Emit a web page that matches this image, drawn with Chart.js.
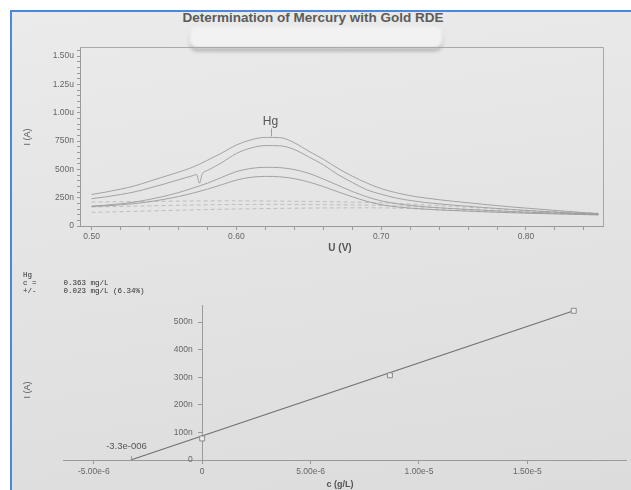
<!DOCTYPE html>
<html>
<head>
<meta charset="utf-8">
<script src="https://cdn.jsdelivr.net/npm/chart.js@4.4.1/dist/chart.umd.min.js"></script>
<style>
  html, body { margin: 0; padding: 0; background: #fff; }
  #page { position: relative; width: 631px; height: 490px; overflow: hidden; background: #fff;
          font-family: "Liberation Sans", Arial, sans-serif; color: #555; }
  #paper { position: absolute; left: 10px; top: 10px; width: 621px; height: 480px;
           border-left: 2px solid #4f86d6; border-top: 2px solid #4f86d6;
           background: linear-gradient(172deg, #ebebeb 0%, #e4e4e4 45%, #dcdcdc 100%); }
  #tape { position: absolute; left: 190px; top: 27px; width: 252px; height: 21px; border-radius: 7px;
          background: #f2f2f2; filter: blur(1.8px); box-shadow: 0 3px 3px rgba(0,0,0,0.28); }
  canvas { position: absolute; left: 0; }
  #top { top: 0; }
  #bottom { top: 290px; }
  .txt { position: absolute; white-space: nowrap; transform: translate(-50%, -50%); }
  .rot { transform: translate(-50%, -50%) rotate(-90deg); }
  #title { left: 313px; top: 17px; font-size: 13.5px; font-weight: bold; color: #5c5c5c; }
  #info { position: absolute; left: 23px; top: 271px; margin: 0; font-family: "Liberation Mono", monospace;
          font-size: 7.5px; line-height: 8px; color: #2e2e2e; }
</style>
</head>
<body>
<div id="page">
  <div id="paper"></div>
  <div class="txt" id="title">Determination of Mercury with Gold RDE</div>
  <div id="tape"></div>
  <canvas id="top" width="631" height="250"></canvas>
  <canvas id="bottom" width="631" height="200"></canvas>
  <div class="txt rot" style="left:27px;top:137px;font-size:9px;">I (A)</div>
  <div class="txt" style="left:340px;top:247px;font-size:10px;font-weight:bold;">U (V)</div>
  <pre id="info">Hg
c =      0.363 mg/L
+/-      0.023 mg/L (6.34%)</pre>
  <div class="txt rot" style="left:27px;top:390px;font-size:9px;">I (A)</div>
  <div class="txt" style="left:340px;top:484px;font-size:9px;font-weight:bold;">c (g/L)</div>
</div>
<script>
// voltammogram (U in V, I in nA)
const voltage = [0.50, 0.51, 0.52, 0.53, 0.54, 0.55, 0.56, 0.57, 0.58, 0.59, 0.60, 0.61,
                 0.62, 0.63, 0.64, 0.65, 0.66, 0.67, 0.68, 0.69, 0.70, 0.71, 0.72, 0.73,
                 0.74, 0.75, 0.76, 0.77, 0.78, 0.79, 0.80, 0.81, 0.82, 0.83, 0.84, 0.85];
const hg1 = [278, 300, 325, 355, 395, 435, 475, 520, 580, 645, 715, 760, 782, 780, 735, 660, 590, 510,
             440, 380, 330, 295, 268, 248, 232, 218, 205, 192, 180, 168, 158, 148, 138, 128, 118, 110];
const hg2 = [241, 258, 278, 302, 335, 370, 408, 445, 490, 560, 640, 688, 710, 708, 675, 610, 540, 455,
             385, 320, 280, 248, 225, 208, 195, 184, 174, 164, 155, 146, 138, 130, 123, 116, 110, 105];
const hg3 = [175, 184, 196, 212, 235, 262, 295, 335, 378, 430, 480, 508, 518, 515, 498, 465, 415, 360,
             305, 258, 222, 198, 182, 170, 161, 153, 146, 140, 134, 128, 123, 118, 114, 110, 106, 102];
const hg4 = [172, 178, 187, 198, 214, 235, 260, 290, 325, 365, 405, 430, 438, 434, 418, 388, 348, 302,
             258, 218, 188, 170, 158, 149, 142, 136, 131, 126, 121, 117, 113, 110, 107, 104, 101, 98];
// spike on the second scan
const spikeU = [0.5725, 0.5745, 0.5765];
const spikeI = [455, 378, 462];
// dashed baselines
const baseU = [0.50, 0.60, 0.70, 0.75, 0.80, 0.85];
const base1 = [212, 222, 205, 172, 138, 112];
const base2 = [168, 190, 182, 152, 124, 104];
const base3 = [120, 150, 160, 138, 116, 98];

const peakU = 0.624;
const peakI = 782;
const peakLabel = 'Hg';

const topXTicks = [0.50, 0.60, 0.70, 0.80];
const topXLabels = ['0.50', '0.60', '0.70', '0.80'];
const topYTicks = [0, 250, 500, 750, 1000, 1250, 1500];
const topYLabels = ['0', '250n', '500n', '750n', '1.00u', '1.25u', '1.50u'];

// standard addition plot (c in g/L, I in nA)
const concX = [0, 8.66e-6, 17.14e-6];
const currentI = [78, 307, 541];
const fitX = [-3.3e-6, 17.14e-6];
const fitI = [0, 541];
const interceptLabel = '-3.3e-006';

const botXTicks = [-5e-6, 0, 5e-6, 1e-5, 1.5e-5];
const botXLabels = ['-5.00e-6', '0', '5.00e-6', '1.00e-5', '1.50e-5'];
const botYTicks = [0, 100, 200, 300, 400, 500];
const botYLabels = ['0', '100n', '200n', '300n', '400n', '500n'];

const pts = (xs, ys) => xs.map((x, i) => ({ x: x, y: ys[i] }));
const near = (arr, v, eps) => arr.findIndex(t => Math.abs(t - v) < eps);

const tickFont = { family: 'Liberation Sans', size: 8.5 };
const axisGrey = '#9a9a9a';
const curveGrey = '#9b9b9b';

const curve = (data) => ({
  data: data, borderColor: curveGrey, borderWidth: 0.9, pointRadius: 0,
  cubicInterpolationMode: 'monotone'
});
const dashed = (data) => ({
  data: data, borderColor: '#b4b4b4', borderWidth: 0.8, borderDash: [4, 3], pointRadius: 0, tension: 0.3
});

const scan2 = pts(voltage, hg2).concat(pts(spikeU, spikeI)).sort((a, b) => a.x - b.x);

const frame = {
  id: 'frame',
  beforeDatasetsDraw(chart) {
    const a = chart.chartArea, ctx = chart.ctx;
    ctx.save();
    ctx.strokeStyle = '#a8a8a8';
    ctx.lineWidth = 1;
    ctx.beginPath();
    ctx.moveTo(a.left, a.top + 0.5);
    ctx.lineTo(a.right + 0.5, a.top + 0.5);
    ctx.lineTo(a.right + 0.5, a.bottom);
    ctx.stroke();
    ctx.restore();
  }
};

const peakMark = {
  id: 'peakMark',
  afterDatasetsDraw(chart) {
    const ctx = chart.ctx, x = chart.scales.x, y = chart.scales.y;
    const px = Math.round(x.getPixelForValue(peakU)) + 0.5;
    const py = y.getPixelForValue(peakI);
    ctx.save();
    ctx.strokeStyle = '#a0a0a0';
    ctx.beginPath();
    ctx.moveTo(px, py - 1);
    ctx.lineTo(px, py - 9);
    ctx.stroke();
    ctx.fillStyle = '#555';
    ctx.font = '12px "Liberation Sans"';
    ctx.textAlign = 'center';
    ctx.textBaseline = 'bottom';
    ctx.fillText(peakLabel, px - 1, py - 10);
    ctx.restore();
  }
};

new Chart(document.getElementById('top'), {
  type: 'line',
  data: {
    datasets: [
      curve(pts(voltage, hg1)), curve(scan2), curve(pts(voltage, hg3)), curve(pts(voltage, hg4)),
      dashed(pts(baseU, base1)), dashed(pts(baseU, base2)), dashed(pts(baseU, base3))
    ]
  },
  options: {
    responsive: false, animation: false,
    layout: { padding: { top: 47, right: 28, left: 0, bottom: 0 } },
    plugins: { legend: { display: false }, tooltip: { enabled: false } },
    scales: {
      x: {
        type: 'linear', min: 0.492, max: 0.8532,
        afterFit: (s) => { s.height = 24; },
        afterBuildTicks: (s) => {
          s.ticks = [];
          for (let i = 0; i <= 17; i++) s.ticks.push({ value: 0.5 + 0.02 * i });
        },
        ticks: {
          autoSkip: false, maxRotation: 0, font: tickFont, color: '#666', padding: 2,
          callback: (v) => { const k = near(topXTicks, v, 1e-6); return k >= 0 ? topXLabels[k] : ''; }
        },
        grid: { drawOnChartArea: false, tickLength: 4, color: axisGrey },
        border: { color: axisGrey }
      },
      y: {
        type: 'linear', min: 0, max: 1580,
        afterFit: (s) => { s.width = 80; },
        afterBuildTicks: (s) => {
          s.ticks = [];
          for (let i = 0; i <= 31; i++) s.ticks.push({ value: 50 * i });
        },
        ticks: {
          autoSkip: false, font: tickFont, color: '#666', padding: 3,
          callback: (v) => { const k = near(topYTicks, v, 1e-3); return k >= 0 ? topYLabels[k] : ''; }
        },
        grid: { drawOnChartArea: false, tickLength: 3, color: axisGrey },
        border: { color: axisGrey }
      }
    }
  },
  plugins: [frame, peakMark]
});

const interceptMark = {
  id: 'interceptMark',
  afterDatasetsDraw(chart) {
    const ctx = chart.ctx, x = chart.scales.x, y = chart.scales.y;
    const px = Math.round(x.getPixelForValue(fitX[0])) + 0.5;
    const py = y.getPixelForValue(0);
    ctx.save();
    ctx.strokeStyle = '#9a9a9a';
    ctx.beginPath();
    ctx.moveTo(px, py);
    ctx.lineTo(px, py - 4);
    ctx.stroke();
    ctx.fillStyle = '#555';
    ctx.font = '9.5px "Liberation Sans"';
    ctx.textAlign = 'center';
    ctx.textBaseline = 'middle';
    ctx.fillText(interceptLabel, px - 5, py - 14);
    ctx.restore();
  }
};

new Chart(document.getElementById('bottom'), {
  type: 'scatter',
  data: {
    datasets: [
      {
        data: pts(concX, currentI), showLine: false, pointStyle: 'rect', pointRadius: 3.5,
        borderColor: '#8a8a8a', backgroundColor: '#ececec', borderWidth: 1
      },
      {
        data: pts(fitX, fitI), showLine: true, pointRadius: 0, borderColor: '#707070', borderWidth: 1.1
      }
    ]
  },
  options: {
    responsive: false, animation: false,
    layout: { padding: { top: 15, right: 1, left: 63, bottom: 0 } },
    plugins: { legend: { display: false }, tooltip: { enabled: false } },
    scales: {
      x: {
        type: 'linear', min: -6.42e-6, max: 19.55e-6,
        afterFit: (s) => { s.height = 30; },
        afterBuildTicks: (s) => { s.ticks = botXTicks.map(v => ({ value: v })); },
        ticks: {
          autoSkip: false, maxRotation: 0, font: tickFont, color: '#666', padding: 3,
          callback: (v) => { const k = near(botXTicks, v, 1e-9); return k >= 0 ? botXLabels[k] : ''; }
        },
        grid: { drawOnChartArea: false, tickLength: 4, color: axisGrey },
        border: { color: axisGrey }
      },
      y: {
        type: 'linear', min: 0, max: 562, position: { x: 0 },
        afterBuildTicks: (s) => { s.ticks = botYTicks.map(v => ({ value: v })); },
        ticks: {
          // labels of an axis placed at x = 0 sit flush on the line, so pad them with spaces
          autoSkip: false, font: tickFont, color: '#666',
          callback: (v) => { const k = near(botYTicks, v, 1e-3); return k >= 0 ? botYLabels[k] + '    ' : ''; }
        },
        grid: { drawOnChartArea: false, tickLength: 4, color: axisGrey },
        border: { color: axisGrey }
      }
    }
  },
  plugins: [interceptMark]
});
</script>
</body>
</html>
